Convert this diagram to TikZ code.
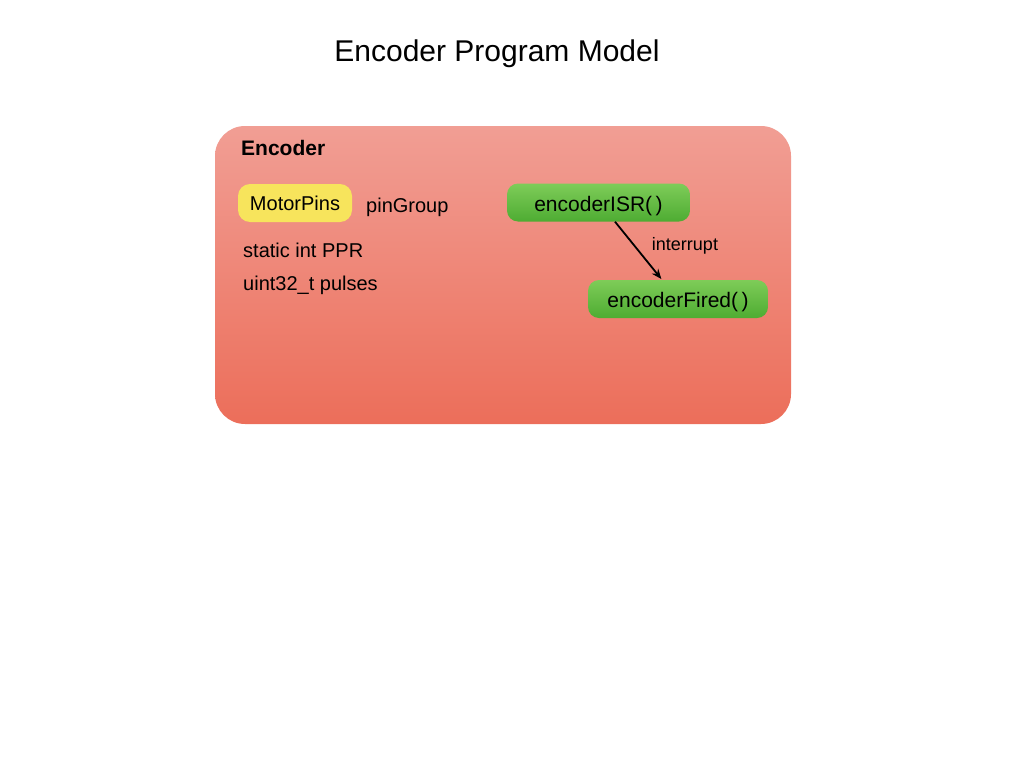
\documentclass[tikz,border=0pt]{standalone}
\usepackage{fontspec}
\setmainfont{Liberation Sans}
\usetikzlibrary{arrows.meta,positioning}
\definecolor{BoxTop}{RGB}{241,158,148}
\definecolor{BoxBot}{RGB}{236,110,90}
\definecolor{PinYellow}{RGB}{247,228,92}
\definecolor{FnTop}{RGB}{126,204,88}
\definecolor{FnBot}{RGB}{78,172,50}
\tikzset{fnbox/.style={rounded corners=11pt,top color=FnTop,bottom color=FnBot,minimum height=38pt,inner sep=0pt,text height=17pt,text depth=0pt,font=\fontsize{21}{25}\selectfont}}
\begin{document}
\begin{tikzpicture}[x=1pt,y=-1pt,font=\fontsize{20}{24}\selectfont]
\useasboundingbox (0,0) rectangle (1024,768);
\node[anchor=base,font=\fontsize{30}{36}\selectfont] (title) at (497,61) {Encoder Program Model};
% class box
\node[rounded corners=30pt,top color=BoxTop,bottom color=BoxBot,minimum width=576pt,minimum height=298pt,inner sep=0pt] (enc) at (503,275) {};
\node[anchor=base west,inner sep=0pt,font=\fontsize{21}{25}\selectfont\bfseries] (encname) at (241,155) {Encoder};
\node[fill=PinYellow,rounded corners=12pt,minimum width=114pt,minimum height=38pt,inner sep=0pt] (pins) at (295,203) {MotorPins};
\node[anchor=base west,inner sep=0pt] (pingroup) at (366,212) {pinGroup};
\node[anchor=base west,inner sep=0pt] (ppr) at (243,257) {static int PPR};
\node[anchor=base west,inner sep=0pt] (pulses) at (243,290) {uint32\_t pulses};
% methods
\node[fnbox,minimum width=183pt] (isr) at (598.5,202.5) {encoderISR(\,)\hspace{8pt}};
\node[fnbox,minimum width=180pt] (fired) at (678,299) {encoderFired(\,)};
\draw[-{Stealth[length=10pt,width=8pt]},line width=1.8pt,shorten >=1pt] ([xshift=16.5pt]isr.south) -- node[pos=0.42,right=13pt,font=\fontsize{18}{21}\selectfont] {interrupt} ([xshift=-16pt]fired.north);
\end{tikzpicture}
\end{document}
